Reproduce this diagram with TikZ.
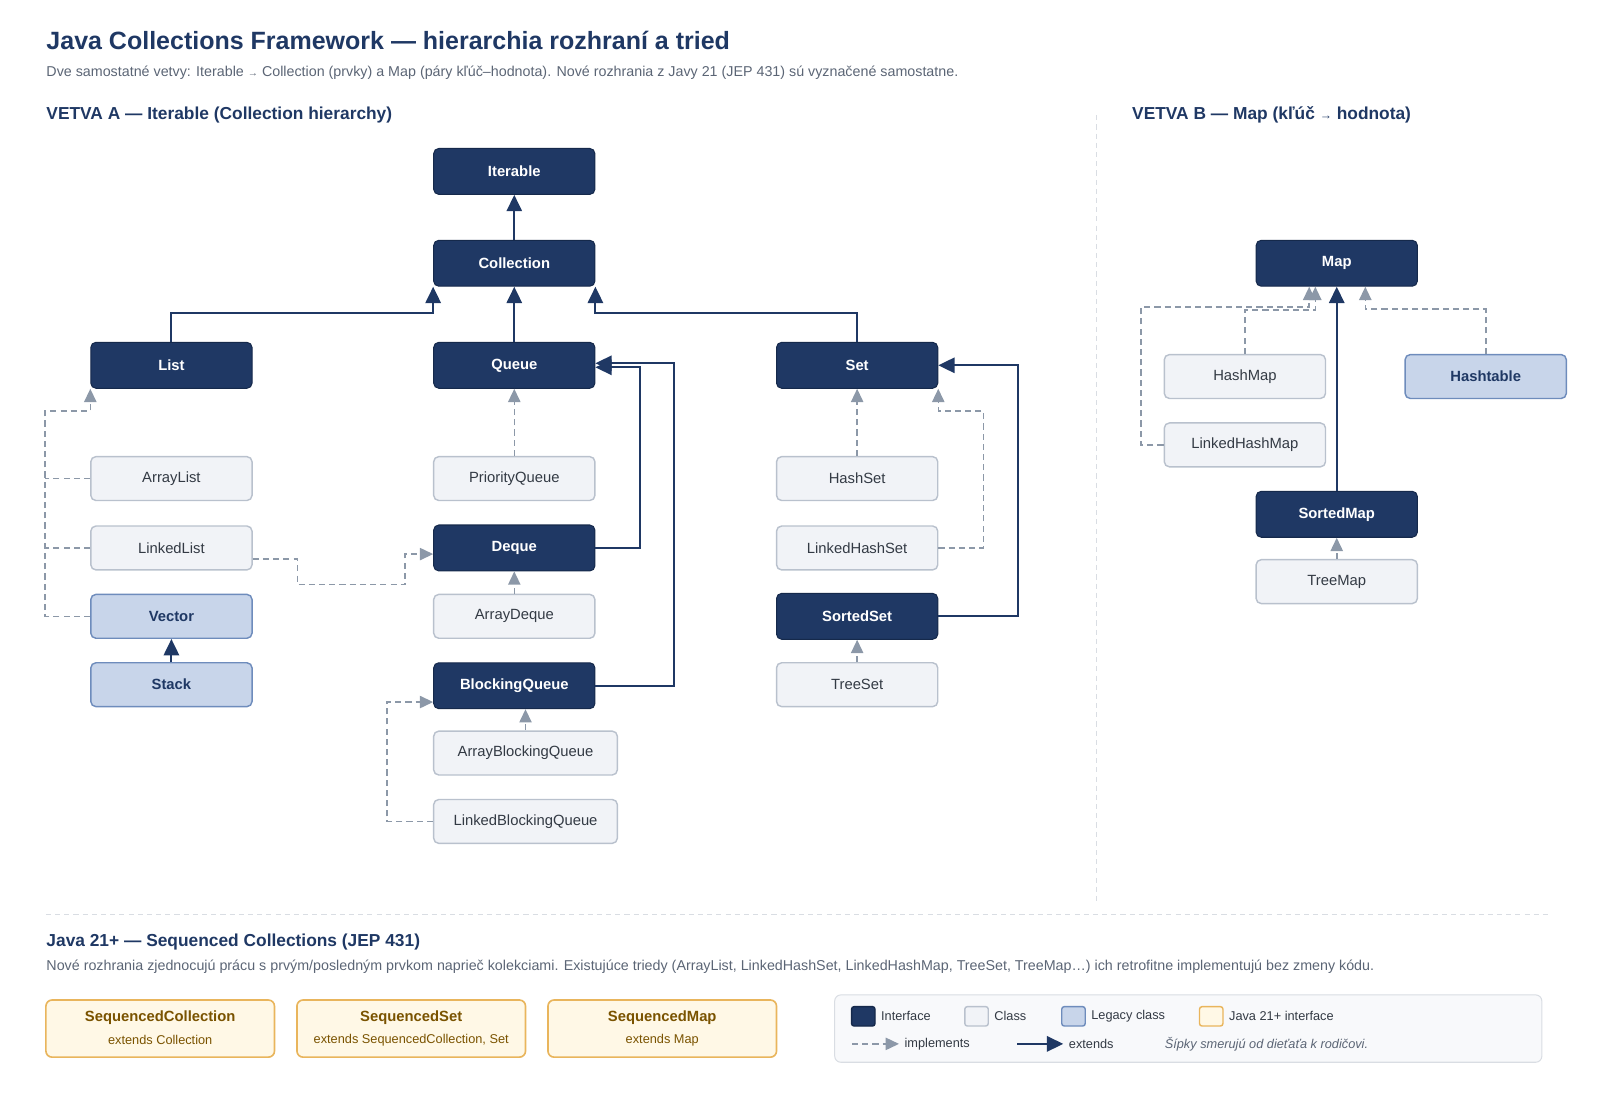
\documentclass[tikz,border=0pt]{standalone}
\usepackage{fontspec}
\setmainfont{Liberation Sans}
\usepackage{xcolor}
\usepackage{tikz}
\usetikzlibrary{arrows.meta, positioning}

\definecolor{navy}{HTML}{1F3864}
\definecolor{navyedge}{HTML}{15294B}
\definecolor{clsfill}{HTML}{F1F3F7}
\definecolor{clsdraw}{HTML}{B9C1CD}
\definecolor{oldfill}{HTML}{C8D5EA}
\definecolor{olddraw}{HTML}{6E8CBC}
\definecolor{implgray}{HTML}{8C98A8}
\definecolor{seqfill}{HTML}{FFF8E6}
\definecolor{seqdraw}{HTML}{E9B55C}
\definecolor{seqtext}{HTML}{7A5300}
\definecolor{subgray}{HTML}{5B6575}
\definecolor{sepgray}{HTML}{D9DDE3}
\definecolor{boxtext}{HTML}{333A44}

\newcommand{\fs}[1]{\fontsize{#1}{#1}\selectfont}

\begin{document}
\begin{tikzpicture}[
  x=1pt, y=-1pt,
  iface/.style={draw=navyedge, fill=navy, text=white, rounded corners=5pt, line width=1pt,
    minimum width=158pt, minimum height=45pt, inner sep=0pt, font=\fs{14.5}\bfseries},
  cls/.style={draw=clsdraw, fill=clsfill, text=boxtext, rounded corners=5pt, line width=1.4pt,
    minimum width=158pt, minimum height=43pt, inner sep=0pt, font=\fs{14.5}},
  wide/.style={minimum width=180pt},
  legacy/.style={draw=olddraw, fill=oldfill, text=navy, rounded corners=5pt, line width=1.4pt,
    minimum width=158pt, minimum height=43pt, inner sep=0pt, font=\fs{14.5}\bfseries},
  seq/.style={draw=seqdraw, fill=seqfill, rounded corners=6pt, line width=1.6pt,
    minimum width=224pt, minimum height=56pt, inner sep=0pt},
  ext/.style={draw=navy, line width=2pt, -{Triangle[width=15pt,length=16pt]}},
  implline/.style={draw=implgray, line width=1.5pt, dash pattern=on 6pt off 4pt},
  impl/.style={implline, -{Triangle[width=12pt,length=13pt]}},
  sep/.style={draw=sepgray, line width=1pt, dash pattern=on 5pt off 4pt},
  heading/.style={anchor=west, text=navy, font=\fs{17}\bfseries},
  swatch/.style={rounded corners=2.5pt, line width=1.4pt, minimum width=23pt, minimum height=19pt, inner sep=0pt},
  legtext/.style={anchor=west, text=boxtext, font=\fs{12.5}}
]
\useasboundingbox (0,0) rectangle (1568,1075);

% titles
\node[anchor=west, text=navy, font=\fs{24.5}\bfseries] (title) at (42,40) {Java Collections Framework — hierarchia rozhraní a tried};
\node[anchor=west, text=subgray, font=\fs{14}] (subtitle) at (42,71) {Dve samostatné vetvy: Iterable {\fs{10}→} Collection (prvky) a Map (páry kľúč–hodnota). Nové rozhrania z Javy 21 (JEP 431) sú vyznačené samostatne.};
\node[heading] (headA) at (42,113) {VETVA A — Iterable (Collection hierarchy)};
\node[heading] (headB) at (1106,113) {VETVA B — Map (kľúč {\fs{12}→} hodnota)};

% separators
\draw[sep] (1075,113) -- (1075,885);
\draw[sep] (45,896) -- (1518,896);

% branch A
\node[iface] (iterable) at (504,168) {Iterable};
\node[iface] (collection) at (504,258) {Collection};
\node[iface] (list) at (168,358) {List};
\node[iface] (queue) at (504,358) {Queue};
\node[iface] (set) at (840,358) {Set};
\node[cls] (arraylist) at (168,469) {ArrayList};
\node[cls] (linkedlist) at (168,537) {LinkedList};
\node[legacy] (vector) at (168,604) {Vector};
\node[legacy] (stack) at (168,671) {Stack};
\node[cls] (prioq) at (504,469) {PriorityQueue};
\node[iface] (deque) at (504,537) {Deque};
\node[cls] (arraydeque) at (504,604) {ArrayDeque};
\node[iface] (blockq) at (504,672) {BlockingQueue};
\node[cls, wide] (arrayblockq) at (515,738) {ArrayBlockingQueue};
\node[cls, wide] (linkedblockq) at (515,805) {LinkedBlockingQueue};
\node[cls] (hashset) at (840,469) {HashSet};
\node[cls] (linkedhashset) at (840,537) {LinkedHashSet};
\node[iface] (sortedset) at (840,604) {SortedSet};
\node[cls] (treeset) at (840,671) {TreeSet};

% branch B
\node[iface] (map) at (1310,258) {Map};
\node[cls] (hashmap) at (1220,369) {HashMap};
\node[legacy] (hashtable) at (1456,369) {Hashtable};
\node[cls] (linkedhashmap) at (1220,436) {LinkedHashMap};
\node[iface] (sortedmap) at (1310,504) {SortedMap};
\node[cls] (treemap) at (1310,570) {TreeMap};

% extends
\draw[ext] (collection.north) -- (iterable.south);
\draw[ext] (list.north) -- ++(0,-28) -| (collection.south west);
\draw[ext] (queue.north) -- (collection.south);
\draw[ext] (set.north) -- ++(0,-28) -| (collection.south east);
\draw[ext] (deque.east) -- ++(44,0) |- ([yshift=-2pt]queue.east);
\draw[ext] (blockq.east) -- ++(77,0) |- ([yshift=2pt]queue.east);
\draw[ext] (stack.north) -- (vector.south);
\draw[ext] (sortedset.east) -- ++(78,0) |- (set.east);
\draw[ext] (sortedmap.north) -- (map.south);

% implements
\draw[impl] (vector.west) -- ++(-44,0) |- ([yshift=-22pt]list.south west) -- (list.south west);
\draw[implline] (arraylist.west) -- ++(-44,0);
\draw[implline] (linkedlist.west) -- ++(-44,0);
\draw[impl] ([yshift=-11pt]linkedlist.east) -- ++(44,0) |- (397,573) |- ([yshift=-6pt]deque.west);
\draw[impl] (prioq.north) -- (queue.south);
\draw[impl] (arraydeque.north) -- (deque.south);
\draw[impl] (arrayblockq.north) -- (arrayblockq.north |- blockq.south);
\draw[impl] (linkedblockq.west) -- ++(-45,0) |- ([yshift=-16pt]blockq.west);
\draw[impl] (hashset.north) -- (set.south);
\draw[impl] (linkedhashset.east) -- ++(44,0) |- ([yshift=-22pt]set.south east) -- (set.south east);
\draw[impl] (treeset.north) -- (sortedset.south);
\draw[impl] (linkedhashmap.west) -- ++(-22,0) |- ([xshift=-27pt,yshift=-20pt]map.south) -- ([xshift=-27pt]map.south);
\draw[impl] (hashmap.north) |- ([xshift=-21pt,yshift=-23pt]map.south) -- ([xshift=-21pt]map.south);
\draw[impl] (hashtable.north) |- ([xshift=28pt,yshift=-22pt]map.south) -- ([xshift=28pt]map.south);
\draw[impl] (treemap.north) -- (sortedmap.south);

% Java 21+
\node[heading] (headC) at (42,923) {Java 21+ — Sequenced Collections (JEP 431)};
\node[anchor=west, text=subgray, font=\fs{14}] (descC) at (42,947) {Nové rozhrania zjednocujú prácu s prvým/posledným prvkom naprieč kolekciami. Existujúce triedy (ArrayList, LinkedHashSet, LinkedHashMap, TreeSet, TreeMap…) ich retrofitne implementujú bez zmeny kódu.};
\node[seq] (seqcoll) at (157,1008) {};
\node[text=seqtext, font=\fs{14.5}\bfseries] at ([yshift=11pt]seqcoll.center) {SequencedCollection};
\node[text=seqtext, font=\fs{12.5}] at ([yshift=-11pt]seqcoll.center) {extends Collection};
\node[seq] (seqset) at (403,1008) {};
\node[text=seqtext, font=\fs{14.5}\bfseries] at ([yshift=11pt]seqset.center) {SequencedSet};
\node[text=seqtext, font=\fs{12.5}] at ([yshift=-11pt]seqset.center) {extends SequencedCollection, Set};
\node[seq] (seqmap) at (649,1008) {};
\node[text=seqtext, font=\fs{14.5}\bfseries] at ([yshift=11pt]seqmap.center) {SequencedMap};
\node[text=seqtext, font=\fs{12.5}] at ([yshift=-11pt]seqmap.center) {extends Map};

% legend
\draw[draw=sepgray, fill=clsfill!50, rounded corners=6pt, line width=1pt] (818,975) rectangle (1511,1041);
\node[swatch, draw=navyedge, fill=navy] (swif) at (846,996) {};
\node[legtext] at (860,996) {Interface};
\node[swatch, draw=clsdraw, fill=clsfill] (swcls) at (957,996) {};
\node[legtext] at (971,996) {Class};
\node[swatch, draw=olddraw, fill=oldfill] (swold) at (1052,996) {};
\node[legtext] at (1066,996) {Legacy class};
\node[swatch, draw=seqdraw, fill=seqfill] (swseq) at (1187,996) {};
\node[legtext] at (1201,996) {Java 21+ interface};
\coordinate (implA) at (835,1023);
\coordinate (implB) at (881,1023);
\draw[impl] (implA) -- (implB);
\node[legtext] at (883,1023) {implements};
\coordinate (extA) at (997,1023);
\coordinate (extB) at (1042,1023);
\draw[ext] (extA) -- (extB);
\node[legtext] at (1044,1023) {extends};
\node[legtext, text=subgray, font=\fs{12.5}\itshape] at (1138,1023) {Šípky smerujú od dieťaťa k rodičovi.};
\end{tikzpicture}
\end{document}
